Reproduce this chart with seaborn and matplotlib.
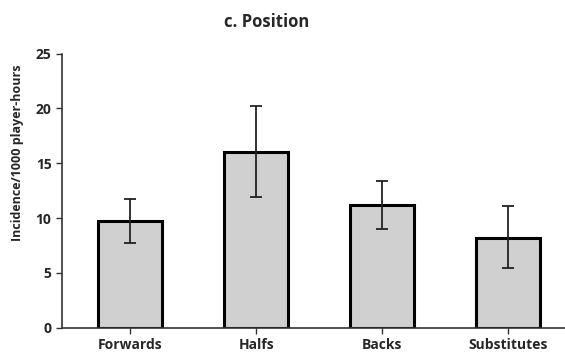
import numpy as np
import pandas as pd
import matplotlib
matplotlib.use("Agg")
import matplotlib.pyplot as plt
import seaborn as sns

positions = ["Forwards", "Halfs", "Backs", "Substitutes"]
incidence = [9.7, 16.0, 11.2, 8.2]
ci_lower = [7.75, 11.9, 9.0, 5.4]
ci_upper = [11.75, 20.2, 13.4, 11.1]
y_ticks = [0, 5, 10, 15, 20, 25]

sns.set_style("ticks")
plt.rcParams["font.family"] = ["Open Sans", "DejaVu Sans"]

df = pd.DataFrame({"position": positions, "incidence": incidence})

fig = plt.figure(figsize=(5.65, 3.55), dpi=100)
ax = fig.add_axes([62 / 565, 0.077, 1 - 62 / 565, 0.849 - 0.077])

sns.barplot(data=df, x="position", y="incidence", order=positions,
            color="#d0d0d0", edgecolor="black", linewidth=2.2,
            width=0.51, saturation=1, errorbar=None, ax=ax)

x = np.arange(len(positions))
yerr = np.array([np.array(incidence) - np.array(ci_lower),
                 np.array(ci_upper) - np.array(incidence)])
ax.errorbar(x, incidence, yerr=yerr, fmt="none", ecolor="#222222",
            elinewidth=1.3, capsize=4, capthick=1.3)

ax.set_xlim(-0.54, 3.45)
ax.set_ylim(0, 25)
ax.set_yticks(y_ticks)
ax.set_xlabel("")
ax.set_ylabel("Incidence/1000 player-hours", fontsize=9, fontweight="bold")
ax.yaxis.set_label_coords(-0.075, 0.637)
ax.tick_params(axis="both", labelsize=10, width=1, length=4, color="#333333")
for lbl in ax.get_xticklabels() + ax.get_yticklabels():
    lbl.set_fontweight("bold")
sns.despine(ax=ax, top=True, right=True)
for side in ("left", "bottom"):
    ax.spines[side].set_linewidth(1.2)
    ax.spines[side].set_color("#333333")

fig.text(267 / 565, 1 - 22 / 355, "c. Position", ha="center", va="center",
         fontsize=12, fontweight="bold")

fig.savefig("out.png", dpi=100)
